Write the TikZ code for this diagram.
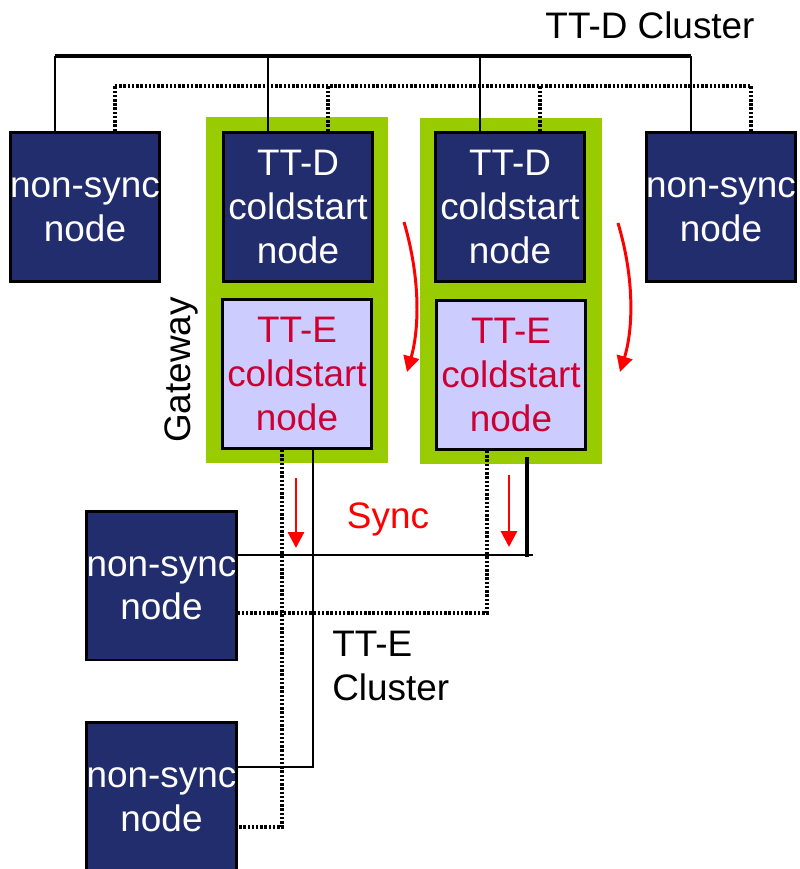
\documentclass[tikz,border=0pt]{standalone}
\usepackage{fontspec}
\setmainfont{Liberation Sans}
\usetikzlibrary{arrows.meta}
\definecolor{navy}{RGB}{34,45,110}
\definecolor{lilac}{RGB}{204,204,255}
\definecolor{gwgreen}{RGB}{153,204,0}
\definecolor{ttered}{RGB}{204,0,51}
\tikzset{
  nodebox/.style={draw=black, line width=1.7pt, fill=navy, text=white,
    minimum width=2.98cm, minimum height=2.98cm, inner sep=0pt,
    align=center, font=\fontsize{21}{25}\selectfont},
  ttebox/.style={nodebox, fill=lilac, text=ttered},
  gatebox/.style={fill=gwgreen, minimum width=3.64cm, minimum height=6.92cm, inner sep=0pt},
  busline/.style={line width=1.8pt},
  link/.style={line width=1.5pt},
  dotlink/.style={line width=1.8pt, dash pattern=on 1.4pt off 1pt},
  syncarrow/.style={-{Triangle[length=9pt,width=9pt]}, line width=1.7pt, red},
  lbl/.style={font=\fontsize{21}{25}\selectfont, inner sep=0pt}
}

\begin{document}
\begin{tikzpicture}[x=0.02cm, y=-0.02cm]
  \useasboundingbox (0,0) rectangle (799,869);

  % Gateways
  \node[gatebox] (gwA) at (297,290) {};
  \node[gatebox] (gwB) at (511,291) {};
  \node[lbl, rotate=90] (gwlabel) at (181,370) {Gateway};

  % TT-D cluster nodes
  \node[nodebox] (nsA) at (85,207) {\vphantom{T}non-sync\\node};
  \node[nodebox] (tdA) at (298,207) {TT-D\\coldstart\\node};
  \node[nodebox] (tdB) at (510,207) {TT-D\\coldstart\\node};
  \node[nodebox] (nsB) at (721,207) {\vphantom{T}non-sync\\node};
  \node[lbl] (tdlabel) at (650,25) {TT-D Cluster};

  % TT-E coldstart nodes
  \node[ttebox] (teA) at (297,374) {TT-E\\coldstart\\node};
  \node[ttebox] (teB) at (511,375) {TT-E\\coldstart\\node};

  % TT-E cluster nodes
  \node[nodebox] (nsC) at (161.5,585.5) {\vphantom{T}non-sync\\node};
  \node[nodebox] (nsD) at (161.5,797) {\vphantom{T}non-sync\\node};
  \node[lbl, align=left, anchor=north west] (telabel) at (332,631) {TT-E\\Cluster};
  \node[lbl, red] (synclabel) at (388,519) {Sync};

  % TT-D buses
  \coordinate (busD) at (0,56);
  \coordinate (busDot) at (0,86);
  \draw[busline] ([xshift=-0.6cm]nsA.north |- busD) -- ([xshift=-0.6cm]nsB.north |- busD);
  \draw[dotlink] ([xshift=0.6cm]nsA.north |- busDot) -- ([xshift=0.6cm]nsB.north |- busDot);
  \foreach \n in {nsA,tdA,tdB,nsB} {
    \draw[link] ([xshift=-0.6cm]\n.north) -- ([xshift=-0.6cm]\n.north |- busD);
    \draw[dotlink] ([xshift=0.6cm]\n.north) -- ([xshift=0.6cm]\n.north |- busDot);
  }

  % TT-E buses
  \coordinate (syncR) at (533,555);
  \draw[link] (syncR) -- (syncR -| nsC.east);
  \draw[line width=2.3pt] ([xshift=0.32cm,yshift=-0.12cm]teB.south) -- ([xshift=0.32cm,yshift=-0.04cm]teB.south |- syncR);
  \draw[link] ([xshift=0.32cm]teA.south) |- ([yshift=0.6cm]nsD.east);
  \draw[dotlink] ([xshift=-0.3cm]teA.south) |- ([yshift=-0.6cm]nsD.east);
  \draw[dotlink] ([xshift=-0.48cm]teB.south) |- ([yshift=-0.55cm]nsC.east);

  % Sync arrows
  \draw[syncarrow] (404,222) .. controls (421,280) and (419,330) .. (407,372);
  \draw[syncarrow] (618,223) .. controls (635,280) and (633,330) .. (620,372);
  \draw[syncarrow] (296,478) -- (296,548);
  \draw[syncarrow] (509,475) -- (509,547);
\end{tikzpicture}
\end{document}
